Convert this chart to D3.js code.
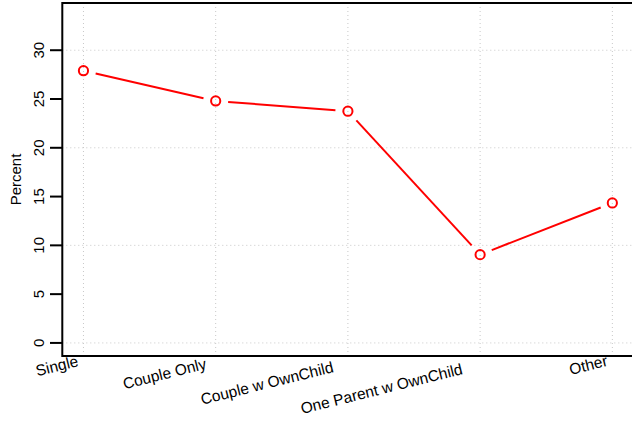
<!DOCTYPE html>
<html>
<head>
<meta charset="utf-8">
<script src="https://d3js.org/d3.v7.min.js"></script>
<style>
    body { margin: 0; background: #fff; }
    text { font-family: "Liberation Sans", Arial, sans-serif; fill: #000; }
    .grid line { stroke: #c8c8c8; stroke-width: 1; stroke-dasharray: 1,3; }
</style>
</head>
<body>
<script>
    // data
    var categories = ["Single", "Couple Only", "Couple w OwnChild", "One Parent w OwnChild", "Other"];
    var percent = [27.9, 24.8, 23.75, 9.05, 14.35];
    var yTicks = [0, 5, 10, 15, 20, 25, 30];
    var yGrid = [0, 10, 20, 30];

    var width = 632, height = 421;
    var plotLeft = 62.3, plotTop = 3, plotBottom = 356, plotRight = 633.5;

    var svg = d3.select("body").append("svg")
        .attr("width", width)
        .attr("height", height);

    // R style: 4% padding on each side of the data range
    var x = d3.scaleLinear().domain([0.84, 5.16]).range([plotLeft, plotRight]);
    var y = d3.scaleLinear().domain([-1.34, 34.84]).range([plotBottom, plotTop]);

    var grid = svg.append("g").attr("class", "grid");
    grid.selectAll(".h").data(yGrid).enter().append("line")
        .attr("class", "h")
        .attr("x1", plotLeft).attr("x2", plotRight)
        .attr("y1", function(d) { return y(d); })
        .attr("y2", function(d) { return y(d); });
    grid.selectAll(".v").data(categories).enter().append("line")
        .attr("class", "v")
        .attr("x1", function(d, i) { return x(i + 1); })
        .attr("x2", function(d, i) { return x(i + 1); })
        .attr("y1", plotTop).attr("y2", plotBottom);

    // frame (left, top, bottom; right edge sits just off the canvas)
    svg.append("path")
        .attr("d", "M" + plotRight + "," + plotTop + "H" + plotLeft + "V" + plotBottom + "H" + plotRight)
        .attr("fill", "none")
        .attr("stroke", "#000")
        .attr("stroke-width", 2);

    // y axis
    var yAxis = svg.append("g");
    yAxis.selectAll("line").data(yTicks).enter().append("line")
        .attr("x1", 50).attr("x2", plotLeft)
        .attr("y1", function(d) { return y(d); })
        .attr("y2", function(d) { return y(d); })
        .attr("stroke", "#000")
        .attr("stroke-width", 2);
    yAxis.selectAll("text").data(yTicks).enter().append("text")
        .attr("transform", function(d) { return "translate(43.5," + y(d) + ") rotate(-90)"; })
        .attr("text-anchor", "middle")
        .attr("font-size", 15)
        .text(function(d) { return d; });

    svg.append("text")
        .attr("transform", "translate(20.5," + ((plotTop + plotBottom) / 2) + ") rotate(-90)")
        .attr("text-anchor", "middle")
        .attr("font-size", 15)
        .text("Percent");

    // slanted category labels
    svg.append("g").selectAll("text").data(categories).enter().append("text")
        .attr("text-anchor", "end")
        .attr("font-size", 15.5)
        .text(function(d) { return d; })
        .attr("transform", function(d, i) {
            var L = this.getComputedTextLength();
            return "translate(" + (x(i + 1) - 0.1 * L) + "," + (363 + 0.065 * L) + ") rotate(-14)";
        });

    // line with gaps around the points (type = "b")
    var pts = percent.map(function(v, i) { return [x(i + 1), y(v)]; });
    var gap = 12.5;
    var segs = d3.pairs(pts).map(function(p) {
        var dx = p[1][0] - p[0][0], dy = p[1][1] - p[0][1];
        var len = Math.sqrt(dx * dx + dy * dy);
        var ux = dx / len, uy = dy / len;
        return [[p[0][0] + ux * gap, p[0][1] + uy * gap], [p[1][0] - ux * gap, p[1][1] - uy * gap]];
    });
    svg.append("g").selectAll("line").data(segs).enter().append("line")
        .attr("x1", function(d) { return d[0][0]; })
        .attr("y1", function(d) { return d[0][1]; })
        .attr("x2", function(d) { return d[1][0]; })
        .attr("y2", function(d) { return d[1][1]; })
        .attr("stroke", "#ff0000")
        .attr("stroke-width", 2);

    svg.append("g").selectAll("circle").data(pts).enter().append("circle")
        .attr("cx", function(d) { return d[0]; })
        .attr("cy", function(d) { return d[1]; })
        .attr("r", 4.6)
        .attr("fill", "none")
        .attr("stroke", "#ff0000")
        .attr("stroke-width", 2);
</script>
</body>
</html>
